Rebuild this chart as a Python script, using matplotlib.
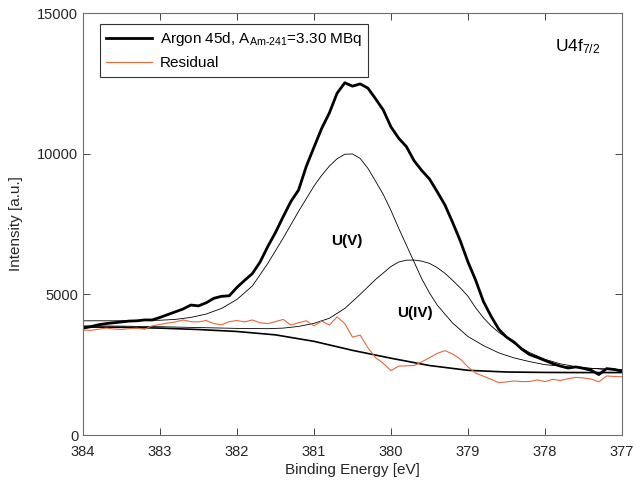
import numpy as np
import matplotlib
matplotlib.use("Agg")
import matplotlib.pyplot as plt

plt.rcParams['font.family'] = ['Liberation Sans', 'DejaVu Sans']
plt.rcParams['mathtext.fontset'] = 'custom'
plt.rcParams['mathtext.rm'] = 'Liberation Sans'
plt.rcParams['mathtext.it'] = 'Liberation Sans'

# measured spectrum and residual, 0.1 eV steps from 384 to 377
energy = [384.0 - 0.1 * i for i in range(71)]
intensity = [3800, 3850, 3920, 3960, 3990, 4020, 4050, 4060, 4090, 4090,
             4180, 4280, 4380, 4480, 4620, 4590, 4700, 4860, 4930, 4950,
             5250, 5500, 5740, 6150, 6700, 7200, 7760, 8300, 8710, 9550,
             10230, 10900, 11450, 12150, 12520, 12400, 12480, 12330, 11950, 11550,
             10950, 10550, 10250, 9750, 9400, 9100, 8650, 8180, 7560, 6900,
             6150, 5500, 4750, 4220, 3760, 3480, 3300, 3050, 2860, 2760,
             2650, 2540, 2450, 2380, 2420, 2370, 2300, 2150, 2360, 2330,
             2270]
residual = [3730, 3720, 3760, 3800, 3770, 3750, 3780, 3800, 3760, 3880,
            3930, 3980, 4020, 4090, 4030, 4020, 4070, 3960, 3920, 4030,
            4070, 4020, 4090, 3990, 3960, 4030, 4110, 3910, 3990, 4060,
            3880, 4050, 3910, 4200, 3960, 3480, 3550, 3100, 2750, 2550,
            2290, 2450, 2460, 2470, 2600, 2750, 2900, 3000, 2880, 2700,
            2420, 2200, 2090, 1980, 1860, 1890, 1920, 1900, 1900, 1960,
            1900, 1980, 1940, 2000, 2050, 2030, 1990, 1890, 2100, 2080,
            2070]

# background
bkg_e = [384.0, 383.5, 383.0, 382.5, 382.0, 381.5, 381.0, 380.5, 380.0,
         379.5, 379.0, 378.5, 378.0, 377.5, 377.0]
bkg_i = [3840, 3830, 3800, 3750, 3680, 3560, 3330, 3010, 2730,
         2470, 2300, 2240, 2225, 2220, 2220]

# U(V) component + background
uv_e = [384.0, 383.6, 383.2, 383.0, 382.8, 382.6, 382.4, 382.2, 382.0, 381.8,
        381.6, 381.4, 381.2, 381.0, 380.9, 380.8, 380.7, 380.6, 380.5, 380.4,
        380.3, 380.2, 380.1, 380.0, 379.9, 379.8, 379.7, 379.6, 379.5, 379.4,
        379.2, 379.0, 378.8, 378.6, 378.4, 378.2, 378.0, 377.5, 377.0]
uv_i = [4060, 4060, 4070, 4080, 4110, 4180, 4300, 4500, 4820, 5300,
        6100, 7000, 7950, 8850, 9230, 9560, 9820, 9980, 9990, 9830,
        9480, 9020, 8550, 7980, 7350, 6750, 6150, 5550, 5050, 4620,
        3980, 3500, 3180, 2920, 2740, 2610, 2500, 2380, 2330]

# U(IV) component + background
uiv_e = [384.0, 383.5, 383.0, 382.5, 382.0, 381.6, 381.4, 381.2, 381.0, 380.8,
         380.6, 380.4, 380.2, 380.0, 379.9, 379.8, 379.7, 379.6, 379.5, 379.4,
         379.3, 379.2, 379.1, 379.0, 378.9, 378.8, 378.7, 378.6, 378.5, 378.4,
         378.2, 378.0, 377.8, 377.6, 377.4, 377.2, 377.0]
uiv_i = [3880, 3870, 3850, 3820, 3790, 3780, 3800, 3860, 3970, 4150,
         4500, 5000, 5530, 5990, 6150, 6215, 6220, 6180, 6100, 5950,
         5750, 5500, 5230, 4930, 4520, 4170, 3880, 3650, 3460, 3250,
         2930, 2690, 2530, 2430, 2370, 2330, 2300]

fig = plt.figure(figsize=(6.35, 4.91), dpi=100)
ax = fig.add_axes([0.1307, 0.114, 0.8488, 0.8595])

ax.plot(bkg_e, bkg_i, color='black', lw=1.2)
ax.plot(uv_e, uv_i, color='black', lw=0.6)
ax.plot(uiv_e, uiv_i, color='black', lw=0.6)
l1, = ax.plot(energy, intensity, color='black', lw=2.0)
l2, = ax.plot(energy, residual, color='#e8683a', lw=0.8)

ax.set_xlim(384, 377)
ax.set_ylim(0, 15000)
ax.set_xticks([384, 383, 382, 381, 380, 379, 378, 377])
ax.set_yticks([0, 5000, 10000, 15000])
ax.tick_params(direction='in', top=True, right=True, length=5, width=0.6,
               colors='#262626', labelsize=10.5, labelcolor='#262626')
ax.tick_params(axis='x', pad=7)
for s in ax.spines.values():
    s.set_color('#6e6e6e')
    s.set_linewidth(0.8)

ax.set_xlabel('Binding Energy [eV]', fontsize=11, color='#262626', labelpad=3)
ax.set_ylabel('Intensity [a.u.]', fontsize=11, color='#262626', labelpad=10)

ax.text(380.57, 6900, 'U(V)', fontsize=11, fontweight='bold', ha='center', va='center')
ax.text(379.69, 4330, 'U(IV)', fontsize=11, fontweight='bold', ha='center', va='center')
ax.text(377.87, 13650, 'U4f$_{7/2}$', fontsize=12.5, ha='left', va='baseline')

leg = ax.legend([l1, l2], ['Argon 45d, A$_{\\mathrm{Am\u2010241}}$=3.30 MBq', 'Residual'],
                loc='upper left', bbox_to_anchor=(0.0315, 0.974), borderaxespad=0,
                fontsize=11, fancybox=False, framealpha=1, edgecolor='#333333',
                handlelength=3.0, handletextpad=0.5, borderpad=0.4, labelspacing=0.55)
leg.get_frame().set_linewidth(0.8)

fig.savefig('out.png', dpi=100)
